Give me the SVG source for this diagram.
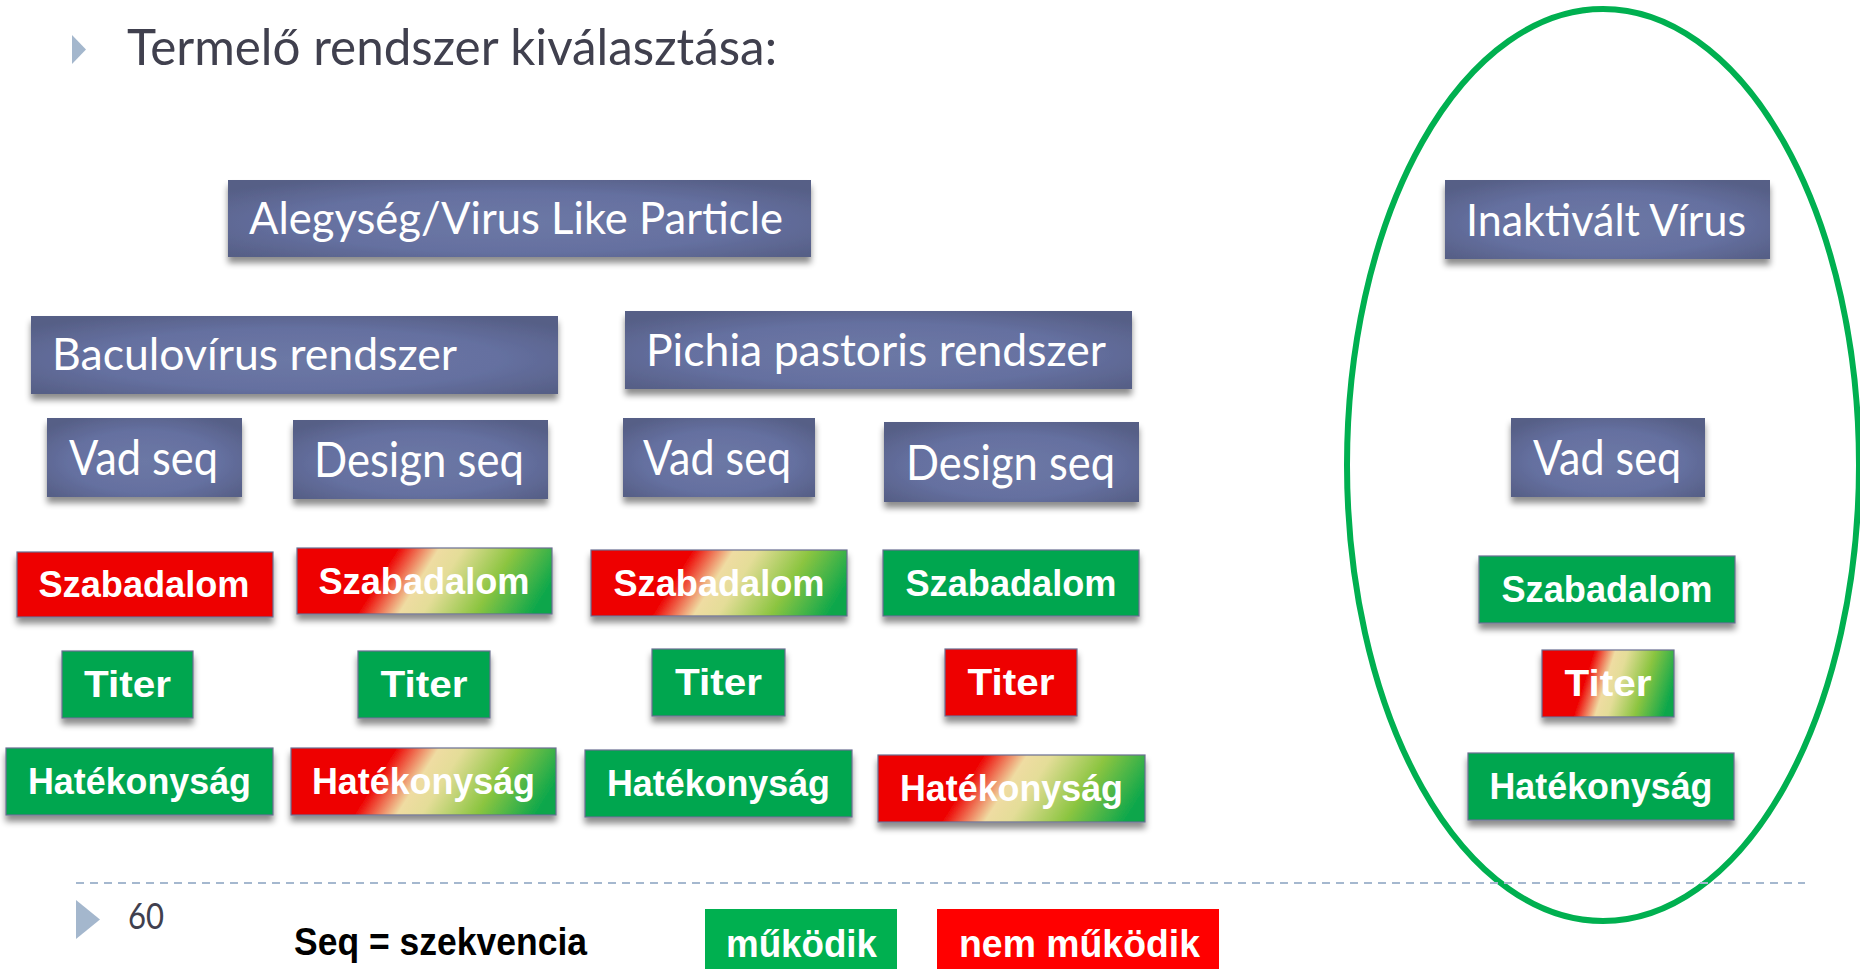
<svg xmlns="http://www.w3.org/2000/svg" width="1860" height="969" viewBox="0 0 1860 969">
<defs>
  <radialGradient id="blue" cx="50%" cy="55%" r="65%">
    <stop offset="0" stop-color="#6C78A5"/>
    <stop offset="0.6" stop-color="#6570A0"/>
    <stop offset="1" stop-color="#565F86"/>
  </radialGradient>
  <linearGradient id="mix" x1="0" y1="0.42" x2="1" y2="0.58">
    <stop offset="0" stop-color="#EE0000"/>
    <stop offset="0.32" stop-color="#EE0000"/>
    <stop offset="0.48" stop-color="#EFDCA2"/>
    <stop offset="0.57" stop-color="#E4DD98"/>
    <stop offset="0.77" stop-color="#8CC541"/>
    <stop offset="1" stop-color="#08A64C"/>
  </linearGradient>
  <filter id="sh" x="-10%" y="-20%" width="120%" height="170%">
    <feDropShadow dx="0" dy="6" stdDeviation="3" flood-color="#000" flood-opacity="0.45"/>
  </filter>
</defs>
<style>
  .bbox { fill: url(#blue); filter: url(#sh); }
  .btxt { font-family: Lato, "Liberation Sans", sans-serif; fill: #FFFFFF; font-size: 44px; }
  .bseq { font-size: 48px; }
  .red { fill: #EE0000; stroke: #6A6E92; stroke-width: 1.2; filter: url(#sh); }
  .grn { fill: #00A64F; stroke: #6A6E92; stroke-width: 1.2; filter: url(#sh); }
  .mix { fill: url(#mix); stroke: #6A6E92; stroke-width: 1.2; filter: url(#sh); }
  .ctxt { font-family: "Liberation Sans", Arial, sans-serif; font-weight: bold; font-size: 37px; fill: #FFFFFF; text-anchor: middle; }
  .title { font-family: Lato, "Liberation Sans", sans-serif; font-size: 50px; fill: #40404E; }
  .bullet { fill: #A4B7CD; }
  .leg { font-family: "Liberation Sans", Arial, sans-serif; font-weight: bold; font-size: 38px; }
</style>
<rect x="0" y="0" width="1860" height="969" fill="#FFFFFF"/>

<g id="title">
  <polygon class="bullet" points="72,35 86,49.5 72,64"/>
  <text class="title" x="127" y="65" textLength="650" lengthAdjust="spacingAndGlyphs">Termelő rendszer kiválasztása:</text>
</g>

<g id="connectors"></g>

<g id="alegyseg">
  <rect class="bbox" x="228" y="180" width="583" height="77"/>
  <text class="btxt" x="249" y="234" textLength="534" lengthAdjust="spacingAndGlyphs">Alegység/Virus Like Particle</text>
</g>
<g id="baculo">
  <rect class="bbox" x="31" y="316" width="527" height="78"/>
  <text class="btxt" x="52" y="370" textLength="405" lengthAdjust="spacingAndGlyphs">Baculovírus rendszer</text>
</g>
<g id="pichia">
  <rect class="bbox" x="625" y="311" width="507" height="78"/>
  <text class="btxt" x="646" y="366" textLength="460" lengthAdjust="spacingAndGlyphs">Pichia pastoris rendszer</text>
</g>
<g id="bac-vad">
  <rect class="bbox" x="47" y="418" width="195" height="79"/>
  <text class="btxt bseq" x="69" y="475" textLength="149" lengthAdjust="spacingAndGlyphs">Vad seq</text>
</g>
<g id="bac-design">
  <rect class="bbox" x="293" y="420" width="255" height="79"/>
  <text class="btxt bseq" x="314" y="477" textLength="210" lengthAdjust="spacingAndGlyphs">Design seq</text>
</g>
<g id="pic-vad">
  <rect class="bbox" x="623" y="418" width="192" height="79"/>
  <text class="btxt bseq" x="643" y="475" textLength="148" lengthAdjust="spacingAndGlyphs">Vad seq</text>
</g>
<g id="pic-design">
  <rect class="bbox" x="884" y="422" width="255" height="80"/>
  <text class="btxt bseq" x="906" y="480" textLength="209" lengthAdjust="spacingAndGlyphs">Design seq</text>
</g>
<g id="inaktivalt">
  <rect class="bbox" x="1445" y="180" width="325" height="79"/>
  <text class="btxt" x="1466" y="236" textLength="280" lengthAdjust="spacingAndGlyphs">Inaktivált Vírus</text>
</g>
<g id="ina-vad">
  <rect class="bbox" x="1511" y="418" width="194" height="79"/>
  <text class="btxt bseq" x="1533" y="475" textLength="148" lengthAdjust="spacingAndGlyphs">Vad seq</text>
</g>

<!-- Szabadalom row -->
<g id="bac-vad-szab">
  <rect class="red" x="17" y="552" width="256" height="65"/>
  <text class="ctxt" x="144" y="597" textLength="211" lengthAdjust="spacingAndGlyphs">Szabadalom</text>
</g>
<g id="bac-design-szab">
  <rect class="mix" x="297" y="548" width="255" height="66"/>
  <text class="ctxt" x="424" y="594" textLength="211" lengthAdjust="spacingAndGlyphs">Szabadalom</text>
</g>
<g id="pic-vad-szab">
  <rect class="mix" x="591" y="550" width="256" height="66"/>
  <text class="ctxt" x="719" y="596" textLength="211" lengthAdjust="spacingAndGlyphs">Szabadalom</text>
</g>
<g id="pic-design-szab">
  <rect class="grn" x="883" y="550" width="256" height="66"/>
  <text class="ctxt" x="1011" y="596" textLength="211" lengthAdjust="spacingAndGlyphs">Szabadalom</text>
</g>
<g id="ina-szab">
  <rect class="grn" x="1479" y="556" width="256" height="67"/>
  <text class="ctxt" x="1607" y="602" textLength="211" lengthAdjust="spacingAndGlyphs">Szabadalom</text>
</g>

<!-- Titer row -->
<g id="bac-vad-titer">
  <rect class="grn" x="62" y="651" width="131" height="67"/>
  <text class="ctxt" x="127.5" y="697" textLength="87" lengthAdjust="spacingAndGlyphs">Titer</text>
</g>
<g id="bac-design-titer">
  <rect class="grn" x="358" y="651" width="132" height="67"/>
  <text class="ctxt" x="424" y="697" textLength="87" lengthAdjust="spacingAndGlyphs">Titer</text>
</g>
<g id="pic-vad-titer">
  <rect class="grn" x="652" y="649" width="133" height="67"/>
  <text class="ctxt" x="718.5" y="695" textLength="87" lengthAdjust="spacingAndGlyphs">Titer</text>
</g>
<g id="pic-design-titer">
  <rect class="red" x="945" y="649" width="132" height="67"/>
  <text class="ctxt" x="1011" y="695" textLength="87" lengthAdjust="spacingAndGlyphs">Titer</text>
</g>
<g id="ina-titer">
  <rect class="mix" x="1542" y="650" width="132" height="67"/>
  <text class="ctxt" x="1608" y="696" textLength="87" lengthAdjust="spacingAndGlyphs">Titer</text>
</g>

<!-- Hatékonyság row -->
<g id="bac-vad-hat">
  <rect class="grn" x="6" y="748" width="267" height="67"/>
  <text class="ctxt" x="139.5" y="794" textLength="223" lengthAdjust="spacingAndGlyphs">Hatékonyság</text>
</g>
<g id="bac-design-hat">
  <rect class="mix" x="291" y="748" width="265" height="67"/>
  <text class="ctxt" x="423.5" y="794" textLength="223" lengthAdjust="spacingAndGlyphs">Hatékonyság</text>
</g>
<g id="pic-vad-hat">
  <rect class="grn" x="585" y="750" width="267" height="67"/>
  <text class="ctxt" x="718.5" y="796" textLength="223" lengthAdjust="spacingAndGlyphs">Hatékonyság</text>
</g>
<g id="pic-design-hat">
  <rect class="mix" x="878" y="755" width="267" height="67"/>
  <text class="ctxt" x="1011.5" y="801" textLength="223" lengthAdjust="spacingAndGlyphs">Hatékonyság</text>
</g>
<g id="ina-hat">
  <rect class="grn" x="1468" y="753" width="266" height="67"/>
  <text class="ctxt" x="1601" y="799" textLength="223" lengthAdjust="spacingAndGlyphs">Hatékonyság</text>
</g>

<g id="highlight">
  <ellipse cx="1603" cy="465" rx="256" ry="456" fill="none" stroke="#00B050" stroke-width="6"/>
</g>

<g id="footer">
  <line x1="76" y1="883" x2="1805" y2="883" stroke="#A5B8CF" stroke-width="1.8" stroke-dasharray="8 6"/>
  <polygon class="bullet" points="76,900 100,919.5 76,939"/>
  <text x="128" y="929" font-family="Lato, 'Liberation Sans', sans-serif" font-size="36" fill="#40404E" textLength="36" lengthAdjust="spacingAndGlyphs">60</text>
</g>

<g id="legend">
  <text class="leg" x="294" y="955" fill="#000000" textLength="293" lengthAdjust="spacingAndGlyphs">Seq = szekvencia</text>
  <g id="legend-works">
    <rect x="705" y="909" width="192" height="60" fill="#00B050"/>
    <text class="leg" x="726" y="957" fill="#FFFFFF" textLength="151" lengthAdjust="spacingAndGlyphs">működik</text>
  </g>
  <g id="legend-fails">
    <rect x="937" y="909" width="282" height="60" fill="#FF0000"/>
    <text class="leg" x="959" y="957" fill="#FFFFFF" textLength="241" lengthAdjust="spacingAndGlyphs">nem működik</text>
  </g>
</g>
</svg>
